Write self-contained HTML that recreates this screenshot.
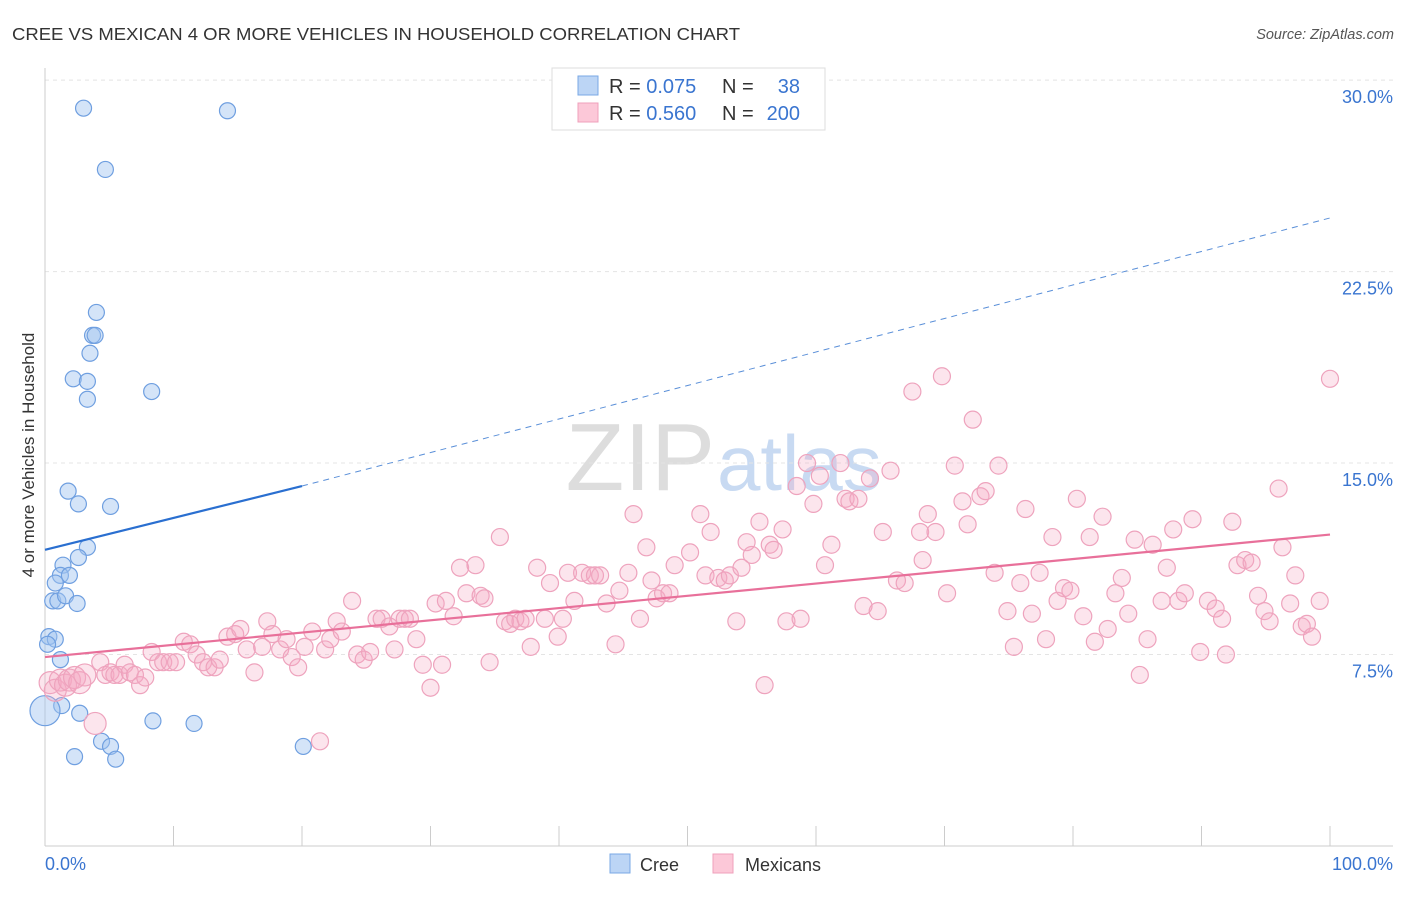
<!DOCTYPE html>
<html><head><meta charset="utf-8"><style>
body{margin:0;background:#fff;font-family:"Liberation Sans",sans-serif;}
svg text{font-family:"Liberation Sans",sans-serif;}
</style></head><body>
<svg id="chart" width="1406" height="892" xmlns="http://www.w3.org/2000/svg">
<text x="12" y="40" font-size="17.5" fill="#333" textLength="728" lengthAdjust="spacingAndGlyphs">CREE VS MEXICAN 4 OR MORE VEHICLES IN HOUSEHOLD CORRELATION CHART</text>
<text x="1394" y="39" font-size="14.5" fill="#555" font-style="italic" text-anchor="end">Source: ZipAtlas.com</text>
<text x="0" y="0" transform="translate(34,455) rotate(-90)" font-size="17" fill="#333" text-anchor="middle">4 or more Vehicles in Household</text>
<text x="715" y="490" font-size="96" fill="#ddd" text-anchor="end" font-family="Liberation Serif">ZIP</text>
<text x="717" y="490" font-size="78" fill="#c8daf2">atlas</text>
<g id="grid"></g><g id="axes"></g><g id="cree"></g><g id="mex"></g><g id="trends"></g>
<g>
<rect x="552" y="68" width="273" height="62" fill="#fff" stroke="#ddd"/>
<rect x="578" y="76" width="20" height="19" fill="#bcd5f5" stroke="#7aa8e5"/>
<rect x="578" y="103" width="20" height="19" fill="#fcc8d8" stroke="#efa0bb"/>
<text x="609" y="93" font-size="20" fill="#333">R = <tspan fill="#3a75d0">0.075</tspan></text>
<text x="722" y="93" font-size="20" fill="#333">N = </text><text x="800" y="93" font-size="20" fill="#3a75d0" text-anchor="end">38</text>
<text x="609" y="120" font-size="20" fill="#333">R = <tspan fill="#3a75d0">0.560</tspan></text>
<text x="722" y="120" font-size="20" fill="#333">N = </text><text x="800" y="120" font-size="20" fill="#3a75d0" text-anchor="end">200</text>
</g>
<g>
<rect x="610" y="854" width="20" height="19" fill="#bcd5f5" stroke="#7aa8e5"/>
<text x="640" y="871" font-size="18" fill="#333">Cree</text>
<rect x="713" y="854" width="20" height="19" fill="#fcc8d8" stroke="#efa0bb"/>
<text x="745" y="871" font-size="18" fill="#333">Mexicans</text>
</g>
</svg>
<script>
const yTicks=[7.5,15,22.5,30];
const yTickLabels=["7.5%","15.0%","22.5%","30.0%"];
const xTicks=[0,10,20,30,40,50,60,70,80,90,100];
const creeX=[3.0,14.2,4.7,4.0,3.7,3.9,3.5,2.2,3.3,3.3,8.3,1.8,2.6,5.1,3.3,1.4,1.2,1.9,0.8,2.6,0.6,1.0,1.6,2.5,0.3,0.8,0.2,1.2,1.3,2.7,8.4,11.6,4.4,5.1,2.3,5.5,20.1,0];
const creeY=[28.9,28.8,26.5,20.9,20.0,20.0,19.3,18.3,18.2,17.5,17.8,13.9,13.4,13.3,11.7,11.0,10.6,10.6,10.3,11.3,9.6,9.6,9.8,9.5,8.2,8.1,7.9,7.3,5.5,5.2,4.9,4.8,4.1,3.9,3.5,3.4,3.9,5.3];
const mexX=[0.4,0.8,1.2,1.6,1.9,2.3,2.7,3.1,3.9,4.3,4.7,5.1,5.4,5.8,6.2,6.6,7.0,7.4,7.8,8.3,8.8,9.2,9.7,10.2,10.8,11.3,11.8,12.3,12.7,13.2,13.6,14.2,14.8,15.2,15.7,16.3,16.9,17.3,17.7,18.3,18.8,19.2,19.7,20.2,20.8,21.4,21.8,22.2,22.7,23.1,23.9,24.3,24.8,25.3,25.8,26.2,26.8,27.2,27.6,28.0,28.4,28.9,29.4,30.0,30.4,30.9,31.2,31.8,32.3,32.8,33.5,33.9,34.2,34.6,35.4,35.8,36.2,36.6,37.0,37.4,37.8,38.3,38.9,39.3,39.9,40.3,40.7,41.2,41.8,42.4,42.8,43.2,43.7,44.4,44.7,45.4,45.8,46.3,46.8,47.2,47.6,48.1,48.6,49.0,50.2,51.0,51.4,51.8,52.4,52.9,53.3,53.8,54.2,54.6,55.0,55.6,56.0,56.4,56.7,57.4,57.7,58.5,58.8,59.3,59.8,60.3,60.7,61.2,61.9,62.3,62.6,63.3,63.7,64.2,64.8,65.2,65.8,66.3,66.9,67.5,68.1,68.3,68.7,69.3,69.8,70.2,70.8,71.4,71.8,72.2,72.8,73.2,73.9,74.2,74.9,75.4,75.9,76.3,76.8,77.4,77.9,78.4,78.8,79.3,79.8,80.3,80.8,81.3,81.7,82.3,82.7,83.3,83.8,84.3,84.8,85.2,85.8,86.2,86.9,87.3,87.8,88.2,88.7,89.3,89.9,90.5,91.1,91.6,91.9,92.4,92.8,93.4,93.9,94.4,94.9,95.3,96.0,96.3,96.9,97.3,97.8,98.2,98.6,99.2,100];
const mexY=[6.4,6.1,6.5,6.3,6.5,6.6,6.4,6.7,4.8,7.2,6.7,6.8,6.7,6.7,7.1,6.8,6.7,6.3,6.6,7.6,7.2,7.2,7.2,7.2,8.0,7.9,7.5,7.2,7.0,7.0,7.3,8.2,8.3,8.5,7.7,6.8,7.8,8.8,8.3,7.7,8.1,7.4,7.0,7.8,8.4,4.1,7.7,8.1,8.8,8.4,9.6,7.5,7.3,7.6,8.9,8.9,8.6,7.7,8.9,8.9,8.9,8.1,7.1,6.2,9.5,7.1,9.6,9.0,10.9,9.9,11.0,9.8,9.7,7.2,12.1,8.8,8.7,8.9,8.8,8.9,7.8,10.9,8.9,10.3,8.2,8.9,10.7,9.6,10.7,10.6,10.6,10.6,9.5,7.9,10.0,10.7,13.0,8.9,11.7,10.4,9.7,9.9,9.9,11.0,11.5,13.0,10.6,12.3,10.5,10.4,10.6,8.8,10.9,11.9,11.4,12.7,6.3,11.8,11.6,12.4,8.8,14.1,8.9,15.0,13.4,14.5,11.0,11.8,15.0,13.6,13.5,13.6,9.4,14.4,9.2,12.3,14.7,10.4,10.3,17.8,12.3,11.2,13.0,12.3,18.4,9.9,14.9,13.5,12.6,16.7,13.7,13.9,10.7,14.9,9.2,7.8,10.3,13.2,9.1,10.7,8.1,12.1,9.6,10.1,10.0,13.6,9.0,12.1,8.0,12.9,8.5,9.9,10.5,9.1,12.0,6.7,8.1,11.8,9.6,10.9,12.4,9.6,9.9,12.8,7.6,9.6,9.3,8.9,7.5,12.7,11.0,11.2,11.1,9.8,9.2,8.8,14.0,11.7,9.5,10.6,8.6,8.7,8.2,9.6,18.3];
const creeTrend=[11.6,14.1];
const creeTrendExt=[14.1,24.6];
const mexTrend=[7.4,12.2];
const NS="http://www.w3.org/2000/svg";
const X=v=>45+v*12.85, Y=v=>846-v*25.53;
function mk(t,a,p){const e=document.createElementNS(NS,t);for(const k in a)e.setAttribute(k,a[k]);p.appendChild(e);return e;}
const grid=document.getElementById('grid'),axes=document.getElementById('axes');
yTicks.forEach((t,i)=>{
 const l=mk('line',{x1:45,x2:1393,y1:Y(t),y2:Y(t),stroke:'#e4e4e4','stroke-dasharray':'4,4'},grid);
 
 
 const tx=mk('text',{x:1393,y:Y(t)+23,'font-size':18,fill:'#3a75d0','text-anchor':'end'},axes);
 tx.textContent=yTickLabels[i];
 
 
});
const ax=mk('line',{x1:45,x2:45,y1:68,y2:846,stroke:'#ccc'},axes);


const bx=mk('line',{x1:45,x2:1393,y1:846,y2:846,stroke:'#ccc'},axes);


xTicks.forEach(t=>{
 const l=mk('line',{x1:X(t),x2:X(t),y1:826,y2:846,stroke:'#ccc'},axes);
 
 
});
const xl0=mk('text',{x:45,y:870,'font-size':18,fill:'#3a75d0'},axes);xl0.textContent='0.0%';


const xl1=mk('text',{x:1393,y:870,'font-size':18,fill:'#3a75d0','text-anchor':'end'},axes);xl1.textContent='100.0%';


const cg=document.getElementById('cree'),mg=document.getElementById('mex'),tg=document.getElementById('trends');
mexX.forEach((v,i)=>{
 const c=mk('circle',{cx:X(v),cy:Y(mexY[i]),r:(v<4?11:8.5),fill:'rgba(246,170,195,0.3)',stroke:'#eea3bd','stroke-width':1.2},mg);
 
 
});
creeX.forEach((v,i)=>{
 const c=mk('circle',{cx:X(v),cy:Y(creeY[i]),r:(v===0?15:8),fill:'rgba(160,195,240,0.45)',stroke:'#6f9fe0','stroke-width':1.2},cg);
 
 
});
const l1=mk('line',{x1:X(0),y1:Y(creeTrend[0]),x2:X(20),y2:Y(creeTrend[1]),stroke:'#2a6fd0','stroke-width':2.2},tg);


const l2=mk('line',{x1:X(20),y1:Y(creeTrendExt[0]),x2:X(100),y2:Y(creeTrendExt[1]),stroke:'#5a8fd8','stroke-width':1,'stroke-dasharray':'6,5'},tg);


const l3=mk('line',{x1:X(0),y1:Y(mexTrend[0]),x2:X(100),y2:Y(mexTrend[1]),stroke:'#e8709a','stroke-width':2.2},tg);


</script>
</body></html>
